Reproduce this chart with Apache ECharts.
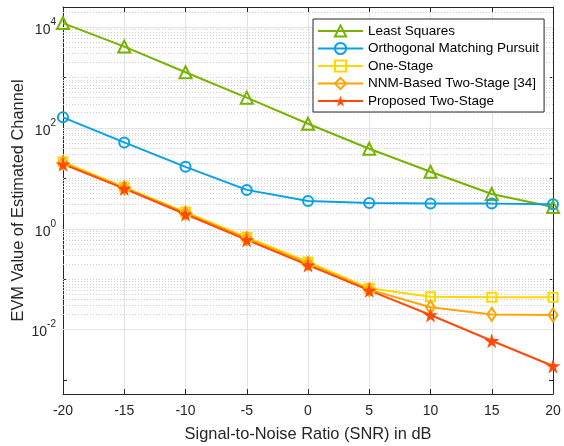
<!DOCTYPE html>
<html>
<head>
<meta charset="utf-8">
<script src="https://cdn.jsdelivr.net/npm/echarts@6/dist/echarts.min.js"></script>
<style>
  html, body { margin: 0; padding: 0; background: #fff; }
  #chart { width: 564px; height: 446px; }
</style>
</head>
<body>
<div id="chart"></div>
<script>
// SNR points (dB)
var snr = [-20, -15, -10, -5, 0, 5, 10, 15, 20];
// EVM values
var leastSquares = [12000, 4100, 1270, 398, 121, 38.6, 13.5, 4.9, 2.7];
var omp          = [162, 51.5, 16.9, 5.9, 3.55, 3.24, 3.15, 3.15, 3.05];
var oneStage     = [21.2, 6.7, 2.14, 0.68, 0.22, 0.066, 0.0446, 0.0437, 0.0437];
var nnmTwoStage  = [20.2, 6.45, 2.05, 0.64, 0.205, 0.062, 0.0277, 0.020, 0.0195];
var proposed     = [19.1, 6.26, 1.94, 0.60, 0.19, 0.060, 0.0195, 0.006, 0.0019];

var names = ['Least Squares', 'Orthogonal Matching Pursuit', 'One-Stage',
             'NNM-Based Two-Stage [34]', 'Proposed Two-Stage'];

var yMin = 5.28e-4, yMax = 2.5e4;
var majorDecades = [-2, 0, 2, 4];   // labelled ticks

var font = 'Liberation Sans, Arial, Helvetica, sans-serif';
var axisColor = '#262626';

function pairs(ys) {
    return snr.map(function (x, i) { return [x, ys[i]]; });
}

// log grid lines (solid on labelled decades, dotted elsewhere)
var majorLines = [], minorLines = [];
for (var e = -4; e <= 4; e++) {
    for (var m = 1; m <= 9; m++) {
        var v = m * Math.pow(10, e);
        if (v <= yMin || v >= yMax) continue;
        if (m === 1 && majorDecades.indexOf(e) >= 0) majorLines.push({ yAxis: v });
        else minorLines.push({ yAxis: v });
    }
}

var starPath = 'path://M50,0 L61,35 L98,35 L68,57 L79,91 L50,70 L21,91 L32,57 L2,35 L39,35 Z';

function lineSeries(name, ys, color, symbol, size, filled) {
    return {
        name: name,
        type: 'line',
        data: pairs(ys),
        symbol: symbol,
        symbolSize: size,
        showAllSymbol: true,
        z: 3,
        lineStyle: { color: color, width: 2 },
        itemStyle: {
            color: filled ? color : 'rgba(255,255,255,0)',
            borderColor: color,
            borderWidth: filled ? 0 : 2
        },
        emphasis: { disabled: true },
        animation: false
    };
}

var myChart = echarts.init(document.getElementById('chart'));
var option = {
    backgroundColor: '#fff',
    textStyle: { fontFamily: font },
    grid: { left: 63, right: 11, top: 7, bottom: 52, containLabel: false, outerBoundsMode: 'none' },
    legend: {
        data: names,
        orient: 'vertical',
        left: 313,
        top: 19,
        backgroundColor: '#fff',
        borderColor: '#262626',
        borderWidth: 1,
        borderRadius: 0,
        padding: [5, 5, 4, 4],
        itemWidth: 45,
        itemHeight: 14,
        itemGap: 3.5,
        textStyle: { fontSize: 13.5, color: '#000', fontFamily: font },
        z: 10
    },
    xAxis: [{
        type: 'value',
        min: -20, max: 20, interval: 5,
        name: 'Signal-to-Noise Ratio (SNR) in dB',
        nameLocation: 'middle',
        nameGap: 32,
        nameMoveOverlap: false,
        nameTextStyle: { fontSize: 16.4, color: axisColor, fontFamily: font },
        axisLine: { onZero: false, lineStyle: { color: axisColor, width: 1 } },
        axisTick: { inside: true, length: 5, lineStyle: { color: axisColor } },
        axisLabel: { fontSize: 14, color: axisColor, margin: 10, fontFamily: font },
        splitLine: { show: true, lineStyle: { color: '#e3e3e3', width: 1 } }
    }, {
        type: 'value', position: 'top',
        min: -20, max: 20, interval: 5,
        axisLine: { onZero: false, lineStyle: { color: axisColor, width: 1 } },
        axisTick: { inside: true, length: 5, lineStyle: { color: axisColor } },
        axisLabel: { show: false },
        splitLine: { show: false }
    }],
    yAxis: [{
        type: 'log',
        logBase: 10,
        min: yMin, max: yMax,
        name: 'EVM Value of Estimated Channel',
        nameLocation: 'middle',
        nameGap: 37,
        nameMoveOverlap: false,
        nameTextStyle: { fontSize: 16.4, color: axisColor, fontFamily: font },
        axisLine: { show: true, onZero: false, lineStyle: { color: axisColor, width: 1 } },
        axisTick: { inside: true, length: 4, lineStyle: { color: axisColor } },
        splitLine: { show: false },
        axisLabel: {
            margin: 7,
            formatter: function (v) {
                var lg = Math.log10(v);
                var r = Math.round(lg);
                if (Math.abs(lg - r) > 1e-6 || majorDecades.indexOf(r) < 0) return '';
                return '{b|10}{s|' + r + '}';
            },
            rich: {
                b: { fontSize: 14, color: axisColor, fontFamily: font, padding: [6, 0, 0, 0], verticalAlign: 'bottom' },
                s: { fontSize: 10, color: axisColor, fontFamily: font, verticalAlign: 'top' }
            }
        }
    }, {
        type: 'log',
        logBase: 10,
        position: 'right',
        min: yMin, max: yMax,
        axisLine: { show: true, onZero: false, lineStyle: { color: axisColor, width: 1 } },
        axisTick: { inside: true, length: 4, lineStyle: { color: axisColor } },
        splitLine: { show: false },
        axisLabel: { show: false }
    }],
    series: [
        {
            name: 'grid',
            type: 'line',
            data: [],
            silent: true,
            animation: false,
            markLine: {
                silent: true,
                z: 1,
                symbol: ['none', 'none'],
                label: { show: false },
                emphasis: { disabled: true },
                animation: false,
                lineStyle: { color: '#cfcfcf', type: [1, 2], width: 1 },
                data: minorLines
            }
        },
        {
            name: 'grid2',
            type: 'line',
            data: [],
            silent: true,
            animation: false,
            markLine: {
                silent: true,
                z: 1,
                symbol: ['none', 'none'],
                label: { show: false },
                emphasis: { disabled: true },
                animation: false,
                lineStyle: { color: '#e3e3e3', type: 'solid', width: 1 },
                data: majorLines
            }
        },
        lineSeries(names[0], leastSquares, '#77B300', 'triangle', 12, false),
        lineSeries(names[1], omp, '#0AA0E6', 'circle', 10, false),
        lineSeries(names[2], oneStage, '#FFD800', 'rect', 9, false),
        lineSeries(names[3], nnmTwoStage, '#FFA400', 'diamond', [9, 13], false),
        lineSeries(names[4], proposed, '#FF4A0A', starPath, 15, true)
    ]
};
myChart.setOption(option);
</script>
</body>
</html>
